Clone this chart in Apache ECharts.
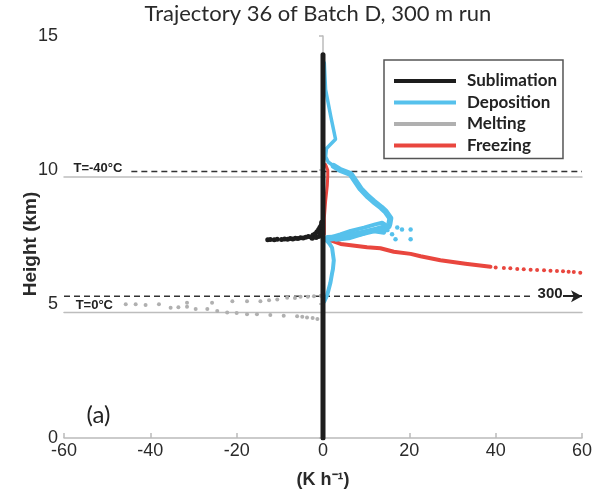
<!DOCTYPE html>
<html><head><meta charset="utf-8">
<script src="https://cdn.jsdelivr.net/npm/echarts/dist/echarts.min.js"></script>
<style>html,body{margin:0;padding:0;background:#fff}#c{width:597px;height:494px}</style>
</head><body><div id="c"></div>
<script>
const titleText = 'Trajectory 36 of Batch D, 300 m run';
const xTickValues = [-60, -40, -20, 0, 20, 40, 60];
const yTickValues = [0, 5, 10, 15];
const seriesNames = ['Sublimation', 'Deposition', 'Melting', 'Freezing'];

const sublimationColumn = [[0, 0], [0, 14.3]];
const sublimationPoints = [[-12.8,7.40],[-12.2,7.41],[-11.3,7.40],[-10.6,7.42],[-9.6,7.41],[-8.9,7.43],[-8.2,7.42],[-7.6,7.44],[-7.0,7.43],[-6.4,7.45],[-5.8,7.44],[-5.2,7.47],[-4.6,7.46],[-4.0,7.49],[-3.4,7.52],[-2.8,7.50],[-2.3,7.57],[-1.8,7.62],[-1.4,7.70],[-1.0,7.78],[-0.7,7.86],[-0.4,7.95],[-0.3,8.05],[-2.5,7.45],[-1.6,7.48],[-1.0,7.52],[-0.6,7.60],[-0.5,7.70]];

const depositionTop = [[0.3,14.0],[0.6,13.0],[1.8,12.0],[2.9,11.15],[0.8,10.8],[0.6,10.5],[1.2,10.3],[2.5,10.15]];
const depositionOuter = [[2.5,10.15],[4.0,10.0],[6.4,9.85],[8.7,9.3],[10.5,9.0],[11.7,8.83],[13.5,8.6],[14.5,8.45],[15.6,8.2],[15.4,8.0],[15.2,7.9],[14.0,7.85],[12.5,7.78],[9.4,7.66],[5.6,7.54],[3.0,7.47],[1.0,7.42],[0.6,7.42]];
const depositionInner = [[1.0,7.45],[4.0,7.6],[6.4,7.73],[9.5,7.85],[12.1,7.97],[13.7,8.03],[14.9,7.91],[14.1,7.66],[11.0,7.73],[9.0,7.6],[6.0,7.45],[3.0,7.4]];
const depositionBand = [[1.0,7.5],[3.5,7.52],[7.0,7.62],[10.5,7.7],[13.0,7.8],[15.0,7.75]];
const depositionLower = [[0.6,7.42],[1.5,7.25],[2.1,7.1],[2.5,6.63],[2.3,6.3],[2.1,6.14],[1.7,5.78],[1.0,5.35],[0.3,5.1]];
const depositionDots = [[18.3,7.78],[20.3,7.78],[16.8,7.42],[20.3,7.42],[16.0,7.6],[17.2,7.85]];

const meltingDots = [[-45.7,4.99],[-43.4,4.99],[-41.1,4.96],[-38.0,4.99],[-35.3,4.86],[-33.5,4.88],[-31.5,5.05],[-31.5,4.9],[-29.5,4.81],[-25.7,5.05],[-21.0,5.1],[-17.6,5.1],[-14.5,5.1],[-12.5,5.14],[-10.6,5.17],[-8.3,5.23],[-6.5,5.22],[-5.2,5.27],[-3.5,5.27],[-2.1,5.29],[-0.5,5.31],
  [-26.8,4.81],[-24.5,4.74],[-22.2,4.68],[-20.0,4.66],[-17.6,4.62],[-15.3,4.62],[-12.2,4.59],[-9.1,4.56],[-6.0,4.54],[-4.8,4.52],[-3.7,4.5],[-2.4,4.48],[-1.3,4.44]];

const freezingSliver = [[0.3,7.6],[0.3,8.2],[0.6,8.83],[1.0,9.43],[1.1,9.8],[1.1,10.0],[0.6,10.2]];
const freezingCurve = [[1.0,7.42],[4.1,7.24],[10.2,7.12],[13.3,7.08],[16.4,6.95],[20.3,6.87],[22.6,6.78],[27.2,6.63],[33.0,6.5],[38.8,6.39]];
const freezingDots = [[40.0,6.36],[41.9,6.34],[43.4,6.33],[45.0,6.31],[46.5,6.30],[48.1,6.28],[49.6,6.27],[51.2,6.26],[52.7,6.24],[54.2,6.23],[55.6,6.22],[56.9,6.20],[58.1,6.19],[59.6,6.17]];

const isothermMinus40 = [[-44.4, 9.94], [60, 9.94]];
const isothermZero = [[-60, 5.29], [48.8, 5.29]];
const levelHigh = [[-60, 9.74], [60, 9.74]];
const levelLow = [[-60, 4.68], [60, 4.68]];
const arrowFrom = [55.6, 5.29];
const arrowTo = [60, 5.29];

const textNotes = [
  { text: 'T=-40°C', at: [-57.8, 10.07], font: 'bold 13px "Liberation Sans"', align: 'left' },
  { text: 'T=0°C', at: [-57.3, 4.93], font: 'bold 13px "Liberation Sans"', align: 'left' },
  { text: '300', at: [52.6, 5.38], font: 'bold 15px "Liberation Sans"', align: 'center' },
  { text: '(a)', at: [-52, 0.85], font: '24px Lato', align: 'center' }
];

const BLUE = '#56c1ec', RED = '#e9463e', GRAY = '#bdbdbd', DOTGRAY = '#b0b0b0', BLACK = '#1d1d1d';

const chart = echarts.init(document.getElementById('c'), null, { renderer: 'canvas' });
const lineS = (name, data, color, width, z, extra) => Object.assign({
  type: 'line', name, data, showSymbol: false, symbol: 'none', z, silent: true,
  lineStyle: { color, width, cap: 'round', join: 'round' }, itemStyle: { color },
  emphasis: { disabled: true }, animation: false
}, extra || {});
const dotS = (name, data, color, size, z) => ({
  type: 'scatter', name, data, symbolSize: size, z, silent: true,
  itemStyle: { color, opacity: 1 }, emphasis: { disabled: true }, animation: false
});

chart.setOption({
  animation: false,
  title: {
    text: titleText, left: 318, top: 3, textAlign: 'center', padding: 0,
    textStyle: { fontFamily: 'Lato', fontWeight: 'normal', fontSize: 22, color: '#2a2a2a' }
  },
  grid: { left: 64, right: 15, top: 36, bottom: 52, containLabel: false },
  legend: {
    data: seriesNames.map(n => ({ name: n })),
    orient: 'vertical', left: 384, top: 60,
    icon: 'rect', itemWidth: 62, itemHeight: 4, itemGap: 3.5,
    padding: [12, 6, 4, 10],
    borderColor: '#555', borderWidth: 1.5,
    textStyle: { fontFamily: 'Lato', fontWeight: 'bold', fontSize: 17, color: '#222', lineHeight: 18, padding: [0, 0, 0, 6] },
    selectedMode: false
  },
  xAxis: {
    type: 'value', min: xTickValues[0], max: xTickValues[xTickValues.length - 1], interval: 20,
    axisLine: { lineStyle: { color: '#bbb', width: 1.5 } },
    axisTick: { inside: true, length: 5, lineStyle: { color: '#bbb', width: 1.5 } },
    axisLabel: { margin: 4, fontFamily: 'Liberation Sans', fontSize: 18, color: '#2a2a2a' },
    splitLine: { show: false },
    name: '(K h⁻¹)', nameLocation: 'middle', nameGap: 33, nameMoveOverlap: false,
    nameTextStyle: { fontFamily: 'Liberation Sans', fontWeight: 'bold', fontSize: 18, color: '#2a2a2a' }
  },
  yAxis: {
    type: 'value', min: yTickValues[0], max: yTickValues[yTickValues.length - 1], interval: 5,
    axisLine: { show: true, lineStyle: { color: '#bbb', width: 1.5 } },
    axisTick: { show: true, inside: false, length: 4, lineStyle: { color: '#bbb', width: 1.5 } },
    axisLabel: { margin: 6, fontFamily: 'Liberation Sans', fontSize: 18, color: '#2a2a2a' },
    splitLine: { show: false },
    name: 'Height (km)', nameLocation: 'middle', nameGap: 24, nameRotate: 90, nameMoveOverlap: false,
    nameTextStyle: { fontFamily: 'Liberation Sans', fontWeight: 'bold', fontSize: 19, color: '#2a2a2a', padding: [0, 14, 0, 0] }
  },
  series: [
    lineS('ref1', levelHigh, GRAY, 1.5, 1),
    lineS('ref2', levelLow, GRAY, 1.5, 1),
    lineS('ref3', isothermMinus40, '#333', 1.5, 1, { lineStyle: { color: '#333', width: 1.5, type: [6, 4] } }),
    lineS('ref4', isothermZero, '#333', 1.5, 1, {
      clip: false,
      lineStyle: { color: '#333', width: 1.5, type: [6, 4] },
      markLine: {
        silent: true, symbol: ['none', 'arrow'], symbolSize: [9, 11],
        label: { show: false }, emphasis: { disabled: true },
        lineStyle: { color: '#222', width: 2, type: 'solid' },
        data: [[{ coord: arrowFrom }, { coord: arrowTo }]]
      }
    }),
    lineS('Sublimation', sublimationColumn, BLACK, 5, 8),
    lineS('Freezing', freezingSliver, RED, 3, 3),
    lineS('Freezing', freezingCurve, RED, 4, 3),
    dotS('Freezing', freezingDots, RED, 4, 3),
    dotS('Melting', meltingDots, DOTGRAY, 4, 3),
    lineS('Deposition', depositionTop, BLUE, 3.5, 5),
    lineS('Deposition', depositionOuter, BLUE, 6, 5),
    lineS('Deposition', depositionInner, BLUE, 4, 5),
    lineS('Deposition', depositionBand, BLUE, 4, 5),
    lineS('Deposition', depositionLower, BLUE, 4, 5),
    dotS('Deposition', depositionDots, BLUE, 4.5, 5),
    dotS('Sublimation', sublimationPoints, BLACK, 5, 8)
  ]
});

const graphics = textNotes.map(n => {
  const p = chart.convertToPixel({ gridIndex: 0 }, n.at);
  return { type: 'text', x: p[0], y: p[1], silent: true,
    style: { text: n.text, font: n.font, fill: '#222', textAlign: n.align, textVerticalAlign: 'middle' } };
});
chart.setOption({ graphic: graphics });
</script>
</body></html>
